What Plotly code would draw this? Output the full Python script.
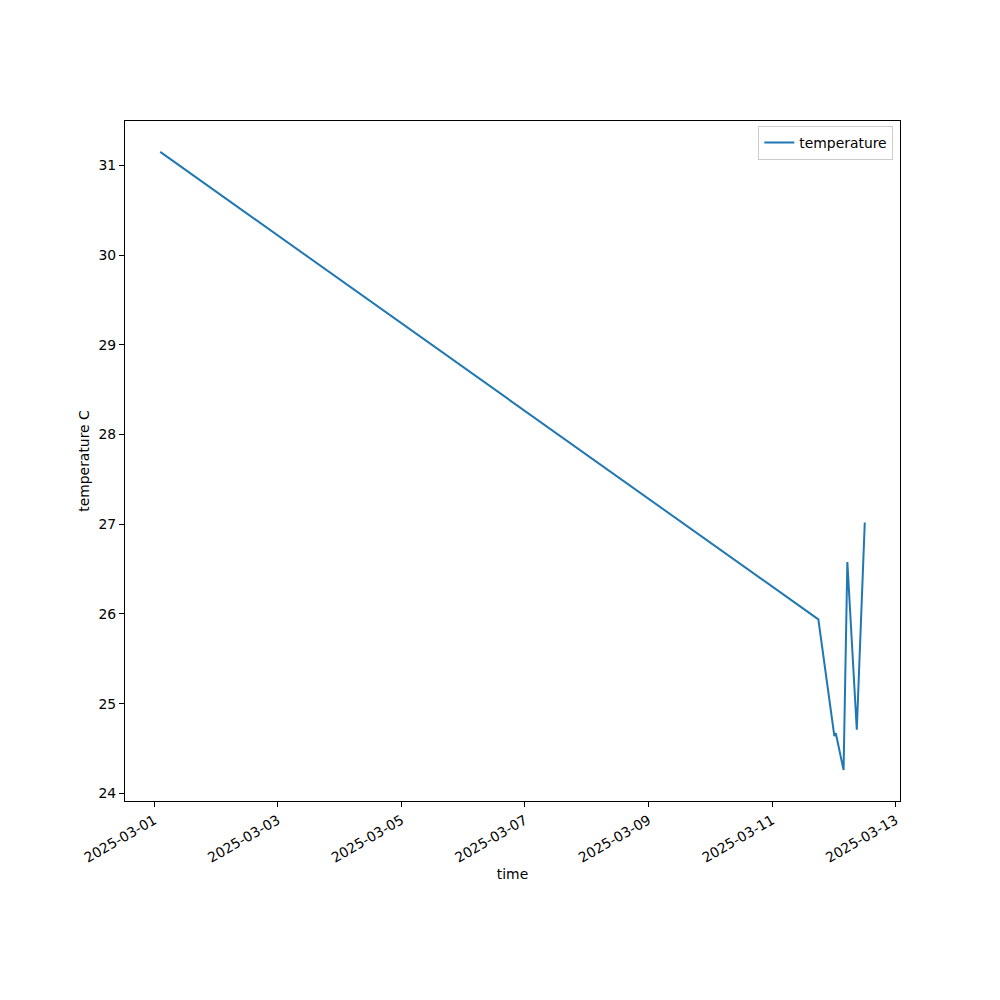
import plotly.graph_objects as go

times = [
    "2025-03-01 02:20",
    "2025-03-11 17:58",
    "2025-03-12 00:11",
    "2025-03-12 00:45",
    "2025-03-12 03:46",
    "2025-03-12 05:14",
    "2025-03-12 08:54",
    "2025-03-12 12:00",
]
temperature = [31.15, 25.94, 24.64, 24.67, 24.26, 26.58, 24.71, 27.02]

x_ticks = ["2025-03-01", "2025-03-03", "2025-03-05", "2025-03-07",
           "2025-03-09", "2025-03-11", "2025-03-13"]
y_ticks = [24, 25, 26, 27, 28, 29, 30, 31]

font = dict(family="DejaVu Sans", size=13.9, color="black")

fig = go.Figure()
fig.add_trace(go.Scatter(
    x=times, y=temperature, mode="lines", name="temperature",
    line=dict(color="#1f77b4", width=2),
))

fig.update_layout(
    width=1000, height=1000,
    margin=dict(l=117, r=108, t=113, b=207),
    paper_bgcolor="white", plot_bgcolor="white",
    font=font,
    showlegend=True,
    legend=dict(
        x=0.9914, y=0.9926, xanchor="right", yanchor="top",
        bordercolor="#cccccc", borderwidth=1, bgcolor="white",
        font=font,
    ),
    xaxis=dict(
        type="date",
        automargin=False,
        range=["2025-02-28 12:39", "2025-03-13 01:41"],
        tickvals=x_ticks, ticktext=x_ticks,
        tickangle=-30,
        ticks="outside", ticklen=5, tickcolor="black",
        showline=True, linecolor="black", linewidth=1, mirror=True,
        showgrid=False, zeroline=False,
        title=dict(text="time", font=font, standoff=3),
    ),
    yaxis=dict(
        automargin=False,
        range=[23.9155, 31.4945],
        tickvals=y_ticks,
        ticks="outside", ticklen=5, tickcolor="black",
        showline=True, linecolor="black", linewidth=1, mirror=True,
        showgrid=False, zeroline=False,
        title=dict(text="temperature C", font=font, standoff=5),
    ),
)

fig.write_html("out.html")
